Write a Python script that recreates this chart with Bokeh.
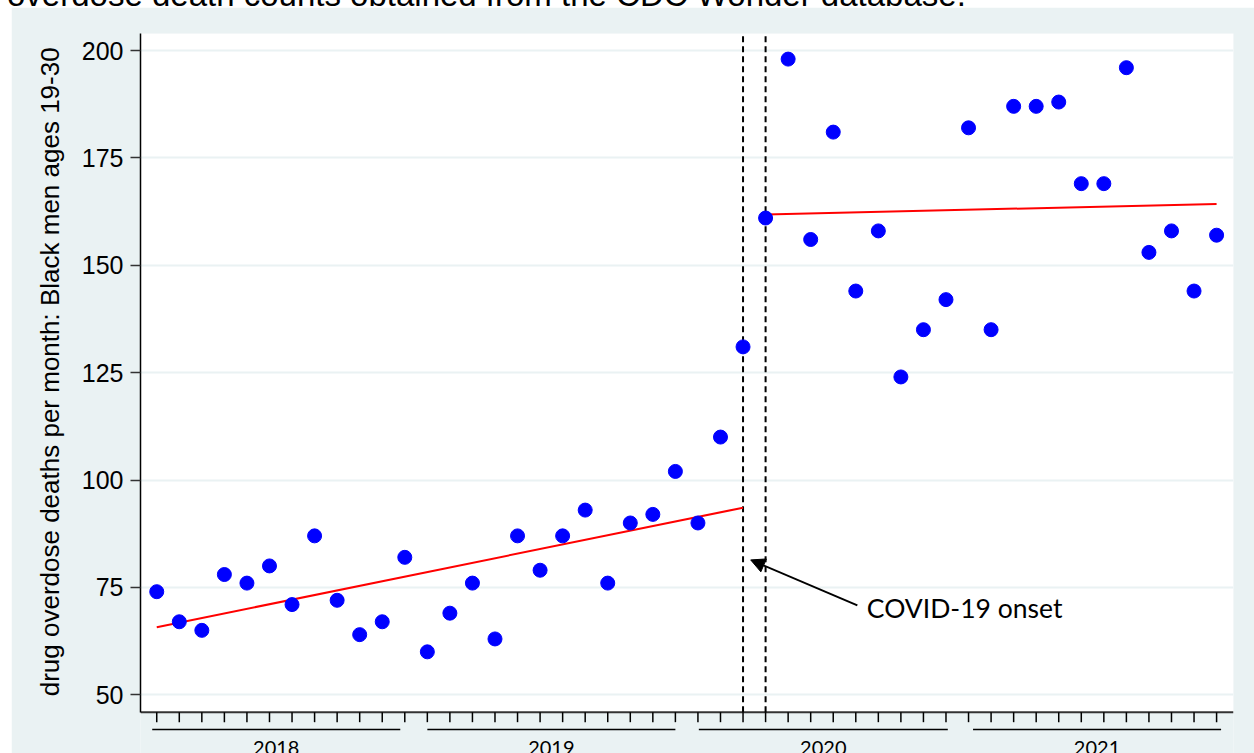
import numpy as np
from bokeh.plotting import figure
from bokeh.models import (Range1d, FixedTicker, Arrow, NormalHead, Label, Div)
from bokeh.layouts import column
from bokeh.embed import file_html
from bokeh.resources import INLINE

# ---- data ----
years = ["2018", "2019", "2020", "2021"]
deaths = [74, 67, 65, 78, 76, 80, 71, 87, 72, 64, 67, 82,
          60, 69, 76, 63, 87, 79, 87, 93, 76, 90, 92, 102,
          90, 110, 131, 161, 198, 156, 181, 144, 158, 124, 135, 142,
          182, 135, 187, 187, 188, 169, 169, 196, 153, 158, 144, 157]
y_ticks = [50, 75, 100, 125, 150, 175, 200]
onset_months = [26, 27]          # March 2020, April 2020 (index from Jan 2018)
annotation_text = "COVID-19 onset"
header_text = "overdose death counts obtained from the CDC Wonder database."
y_label = "drug overdose deaths per month: Black men ages 19-30"

months = np.arange(len(deaths))
y = np.array(deaths, dtype=float)

# linear fits: pre period (months before onset), post period
pre = months < onset_months[0]
post = months >= onset_months[1]
b_pre = np.polyfit(months[pre], y[pre], 1)
b_post = np.polyfit(months[post], y[post], 1)
pre_x = np.array([months[pre][0], onset_months[0]])
post_x = np.array([months[post][0], months[post][-1]])

BG = "#EAF2F3"
X0, X1 = -0.72, 47.75          # plot-region x extent
Y0, Y1 = 45.95, 203.96         # plot-region y extent
Y_CANVAS_BOTTOM = 36.33        # frame extends below the plot region to hold the year brackets
PX_PER_Y = 4.295

p = figure(width=1243, height=746, output_backend="svg", toolbar_location=None,
           x_range=Range1d(X0, X1), y_range=Range1d(Y_CANVAS_BOTTOM, Y1),
           x_axis_location=None,
           min_border_left=129, min_border_right=21, min_border_top=26, min_border_bottom=0)
p.background_fill_color = BG
p.border_fill_color = BG
p.outline_line_color = None
p.margin = (0, 0, 0, 11)

# white plot region
p.quad(left=[X0], right=[X1], bottom=[Y0], top=[Y1], fill_color="white", line_color=None,
       level="underlay")

# grid
p.xgrid.grid_line_color = None
p.ygrid.grid_line_color = BG
p.ygrid.grid_line_width = 2
p.ygrid.ticker = FixedTicker(ticks=y_ticks)
p.ygrid.level = "underlay"

# y axis (title padded at its start so that it centres on the plot region, not the frame)
p.yaxis.bounds = (Y0, Y1)
p.yaxis.ticker = FixedTicker(ticks=y_ticks)
p.yaxis.axis_label = "\u00a0" * 6 + y_label
p.yaxis.axis_label_text_font = "Liberation Sans"
p.yaxis.axis_label_text_font_style = "normal"
p.yaxis.axis_label_text_font_size = "26px"
p.yaxis.axis_label_text_color = "black"
p.yaxis.axis_label_standoff = 14
p.yaxis.major_label_text_font = "Liberation Sans"
p.yaxis.major_label_text_font_size = "25px"
p.yaxis.major_label_text_color = "black"
p.yaxis.major_label_standoff = 7
p.yaxis.major_tick_in = 0
p.yaxis.major_tick_out = 10
p.yaxis.minor_tick_line_color = None
p.yaxis.axis_line_color = "black"
p.yaxis.axis_line_width = 1.5
p.yaxis.major_tick_line_color = "#333333"
p.yaxis.major_tick_line_width = 1.5

# x axis drawn in data space: axis line, monthly ticks
tick_len = 10 / PX_PER_Y
p.segment(x0=[X0], y0=[Y0], x1=[X1], y1=[Y0], line_color="#333333", line_width=2)
p.segment(x0=months, y0=np.full(len(months), Y0), x1=months,
          y1=np.full(len(months), Y0 - tick_len), line_color="black", line_width=1.5)

# year brackets below axis
year_spans = [(-0.2, 10.8), (12.0, 23.0), (24.04, 35.08), (36.2, 47.2)]
ya = [a for a, b in year_spans]
yb = [b for a, b in year_spans]
line_y = Y0 - 17.3 / PX_PER_Y
p.segment(x0=ya, y0=[line_y] * 4, x1=yb, y1=[line_y] * 4, line_color="black", line_width=1.5)
p.text(x=[(a + b) / 2 for a, b in year_spans], y=[Y0 - 28.5 / PX_PER_Y] * 4, text=years,
       text_font={"value": "Lato"}, text_font_size="20px", text_color="black",
       text_align="center", text_baseline="top")

# onset lines (plot region only)
p.segment(x0=onset_months, y0=[Y0] * len(onset_months), x1=onset_months,
          y1=[Y1] * len(onset_months), line_color="black", line_dash="6 4", line_width=2)

# fit lines
p.line(pre_x, np.polyval(b_pre, pre_x), line_color="red", line_width=2)
p.line(post_x, np.polyval(b_post, post_x), line_color="red", line_width=2)

# points
p.scatter(months, y, size=14, fill_color="blue", line_color="blue")

# annotation arrow + text
p.add_layout(Arrow(x_start=31.07, y_start=70.8, x_end=26.34, y_end=81.4,
                   line_color="black", line_width=2,
                   end=NormalHead(size=14, fill_color="black", line_color="black")))
p.add_layout(Label(x=31.49, y=70.3, text=annotation_text, text_font="Lato",
                   text_font_size="26.5px", text_color="black", text_baseline="alphabetic"))

header = Div(text='<div style="position:absolute; left:7px; top:-21px; white-space:nowrap; '
                  'font-family:\'Liberation Sans\', Arial, sans-serif; font-size:33px; line-height:31px; '
                  'color:black;">' + header_text + '</div>',
             width=1254, height=7, margin=(0, 0, 0, 0),
             styles={"overflow": "visible", "position": "relative"})

layout = column(header, p, spacing=0, margin=(0, 0, 0, 0))
open("out.html", "w").write(file_html(layout, INLINE))
